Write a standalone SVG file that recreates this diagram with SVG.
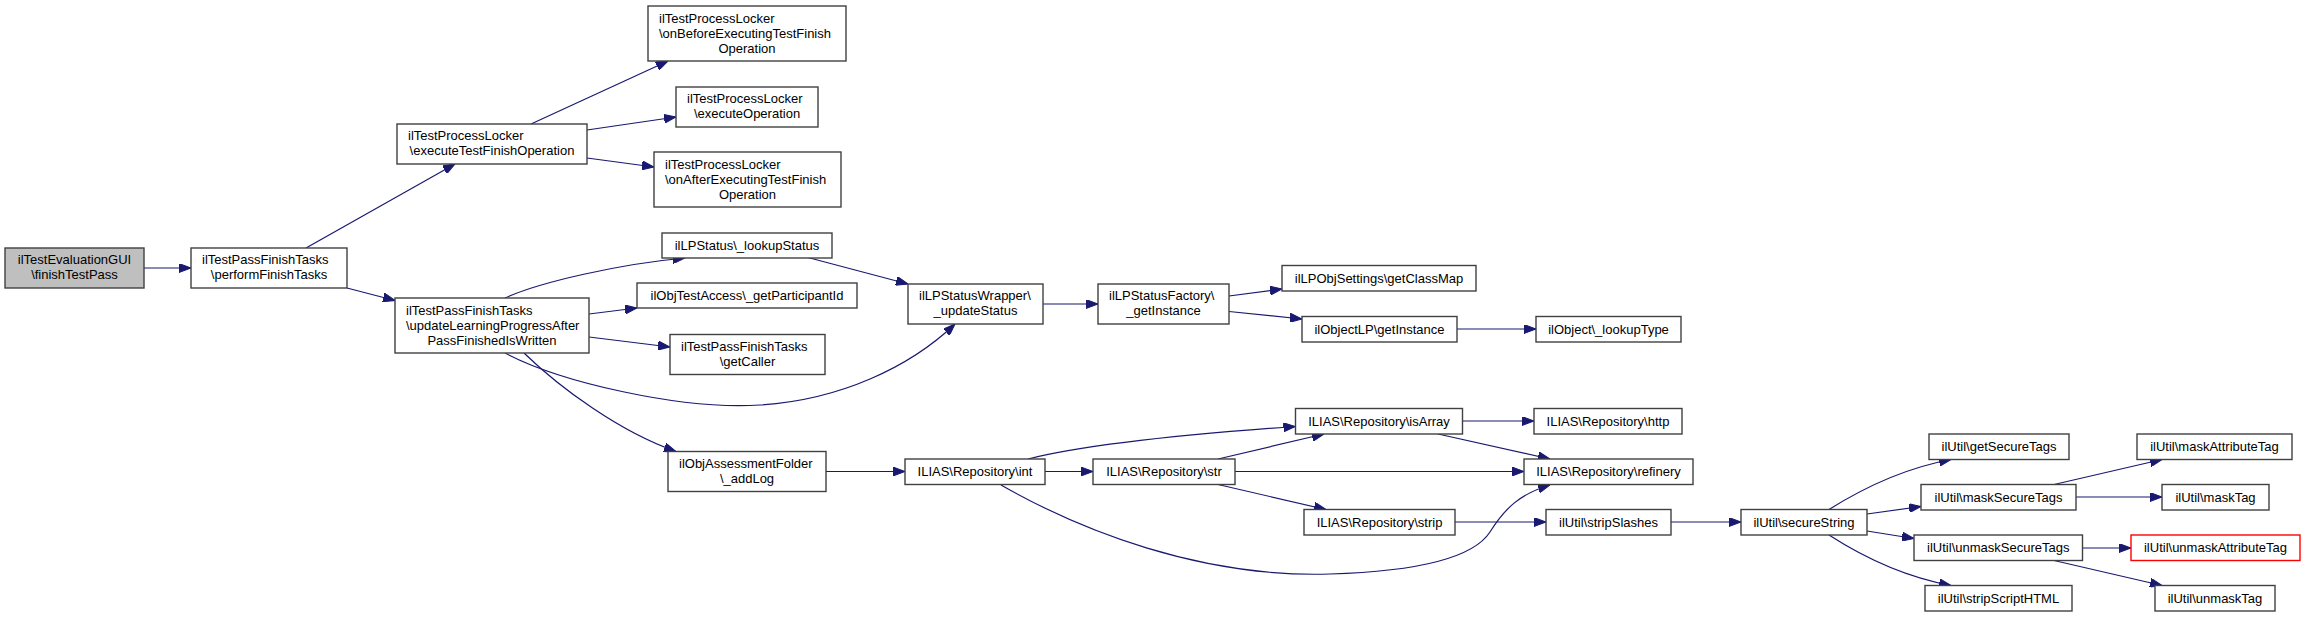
<svg xmlns="http://www.w3.org/2000/svg" width="2305" height="617" viewBox="0 0 2305 617">
<style>
.node rect{fill:#ffffff;stroke:#404040;stroke-width:1.4}
.node.root rect{fill:#bfbfbf}
.node.red rect{stroke:#ff0000}
.node text{font-family:"Liberation Sans",Arial,Helvetica,sans-serif;font-size:13px;fill:#000000}
.c{text-anchor:middle}
.l{text-anchor:start}
.edge{fill:none;stroke:#191970;stroke-width:1.2;marker-end:url(#arr)}
</style>
<defs>
<marker id="arr" viewBox="0 0 12 9" refX="12" refY="4.5" markerWidth="12" markerHeight="9" markerUnits="userSpaceOnUse" orient="auto">
<path d="M0,0 L12,4.5 L0,9 z" fill="#191970" stroke="#191970" stroke-width="1"/>
</marker>
</defs>
<rect width="2305" height="617" fill="#ffffff"/>
<g id="edges">
<path class="edge" d="M144,268 L191,268"/>
<path class="edge" d="M306,248 L455,164"/>
<path class="edge" d="M347,288 L395,300.5"/>
<path class="edge" d="M531,124 L668,61"/>
<path class="edge" d="M587,130 L676,117"/>
<path class="edge" d="M587,158 L654,167"/>
<path class="edge" d="M505,298 C540,282 620,264 685,258"/>
<path class="edge" d="M589,314 L637,308"/>
<path class="edge" d="M589,337 L670,347"/>
<path class="edge" d="M505,353 C560,382 680,410 760,405 C840,400 910,367 955,324"/>
<path class="edge" d="M524,353 C560,388 620,432 676,451.5"/>
<path class="edge" d="M806,257 L908,284"/>
<path class="edge" d="M1043,304 L1098,304"/>
<path class="edge" d="M1229,296 L1282,289"/>
<path class="edge" d="M1229,311.5 L1302,319"/>
<path class="edge" d="M1457,329 L1536,329"/>
<path class="edge" d="M826,471.5 L905,471.5"/>
<path class="edge" d="M1045,471.5 L1093,471.5"/>
<path class="edge" d="M1028,459 C1080,446 1160,436 1295.5,426.5"/>
<path class="edge" d="M1001,485 C1080,530 1200,578 1330,574 C1430,571 1475,555 1490,532 C1505,508 1520,494 1550,485"/>
<path class="edge" d="M1218,459 L1324,434"/>
<path class="edge" d="M1235,471.5 L1524,471.5"/>
<path class="edge" d="M1218,484.5 L1326,509.5"/>
<path class="edge" d="M1463,421 L1534,421"/>
<path class="edge" d="M1438,434 L1550,459"/>
<path class="edge" d="M1455,522 L1546,522"/>
<path class="edge" d="M1671,522 L1741,522"/>
<path class="edge" d="M1829,509.5 C1860,490 1900,469 1951,459.5"/>
<path class="edge" d="M1867,514 L1921,506.5"/>
<path class="edge" d="M1867,531 L1914,538.5"/>
<path class="edge" d="M1829,535 C1860,555 1900,576 1951,585.5"/>
<path class="edge" d="M2054,484.5 L2162,459.5"/>
<path class="edge" d="M2076,497 L2162,497"/>
<path class="edge" d="M2082.5,548 L2131,548"/>
<path class="edge" d="M2054,560.5 L2162,585.5"/>
</g>
<g id="n1" class="node root"><rect x="5" y="248" width="139" height="40"/><text class="c" x="74.5" y="264">ilTestEvaluationGUI</text><text class="c" x="74.5" y="279">\finishTestPass</text></g>
<g id="n2" class="node"><rect x="191" y="248" width="156" height="40"/><text class="l" x="202" y="264">ilTestPassFinishTasks</text><text class="c" x="269" y="279">\performFinishTasks</text></g>
<g id="n3" class="node"><rect x="397" y="124" width="190" height="40"/><text class="l" x="408" y="140">ilTestProcessLocker</text><text class="c" x="492" y="155">\executeTestFinishOperation</text></g>
<g id="n4" class="node"><rect x="395" y="298" width="194" height="55"/><text class="l" x="406" y="314.5">ilTestPassFinishTasks</text><text class="l" x="406" y="329.5">\updateLearningProgressAfter</text><text class="c" x="492" y="344.5">PassFinishedIsWritten</text></g>
<g id="n5" class="node"><rect x="648" y="6" width="198" height="55"/><text class="l" x="659" y="22.5">ilTestProcessLocker</text><text class="l" x="659" y="37.5">\onBeforeExecutingTestFinish</text><text class="c" x="747" y="52.5">Operation</text></g>
<g id="n6" class="node"><rect x="676" y="87" width="142" height="40"/><text class="l" x="687" y="103">ilTestProcessLocker</text><text class="c" x="747" y="118">\executeOperation</text></g>
<g id="n7" class="node"><rect x="654" y="152" width="187" height="55"/><text class="l" x="665" y="168.5">ilTestProcessLocker</text><text class="l" x="665" y="183.5">\onAfterExecutingTestFinish</text><text class="c" x="747.5" y="198.5">Operation</text></g>
<g id="n8" class="node"><rect x="662" y="233" width="170" height="25"/><text class="c" x="747" y="250">ilLPStatus\_lookupStatus</text></g>
<g id="n9" class="node"><rect x="637" y="283" width="220" height="25"/><text class="c" x="747" y="300">ilObjTestAccess\_getParticipantId</text></g>
<g id="n10" class="node"><rect x="670" y="334.5" width="155" height="40"/><text class="l" x="681" y="350.5">ilTestPassFinishTasks</text><text class="c" x="747.5" y="365.5">\getCaller</text></g>
<g id="n11" class="node"><rect x="908" y="284" width="135" height="40"/><text class="l" x="919" y="300">ilLPStatusWrapper\</text><text class="c" x="975.5" y="315">_updateStatus</text></g>
<g id="n12" class="node"><rect x="1098" y="284" width="131" height="40"/><text class="l" x="1109" y="300">ilLPStatusFactory\</text><text class="c" x="1163.5" y="315">_getInstance</text></g>
<g id="n13" class="node"><rect x="1282" y="265.5" width="194" height="25.5"/><text class="c" x="1379" y="282.5">ilLPObjSettings\getClassMap</text></g>
<g id="n14" class="node"><rect x="1302" y="316.5" width="155" height="25.5"/><text class="c" x="1379.5" y="333.5">ilObjectLP\getInstance</text></g>
<g id="n15" class="node"><rect x="1536" y="316.5" width="145" height="25.5"/><text class="c" x="1608.5" y="333.5">ilObject\_lookupType</text></g>
<g id="n16" class="node"><rect x="668" y="451.5" width="158" height="40"/><text class="l" x="679" y="467.5">ilObjAssessmentFolder</text><text class="c" x="747" y="482.5">\_addLog</text></g>
<g id="n17" class="node"><rect x="905" y="459" width="140" height="25.5"/><text class="c" x="975" y="476">ILIAS\Repository\int</text></g>
<g id="n18" class="node"><rect x="1093" y="459" width="142" height="25.5"/><text class="c" x="1164" y="476">ILIAS\Repository\str</text></g>
<g id="n19" class="node"><rect x="1295.5" y="408.5" width="167" height="25.5"/><text class="c" x="1379" y="425.5">ILIAS\Repository\isArray</text></g>
<g id="n20" class="node"><rect x="1534" y="408.5" width="148" height="25.5"/><text class="c" x="1608" y="425.5">ILIAS\Repository\http</text></g>
<g id="n21" class="node"><rect x="1524" y="459" width="169" height="25.5"/><text class="c" x="1608.5" y="476">ILIAS\Repository\refinery</text></g>
<g id="n22" class="node"><rect x="1304" y="509.5" width="151" height="25.5"/><text class="c" x="1379.5" y="526.5">ILIAS\Repository\strip</text></g>
<g id="n23" class="node"><rect x="1546" y="509.5" width="125" height="25.5"/><text class="c" x="1608.5" y="526.5">ilUtil\stripSlashes</text></g>
<g id="n24" class="node"><rect x="1741" y="509.5" width="126" height="25.5"/><text class="c" x="1804" y="526.5">ilUtil\secureString</text></g>
<g id="n25" class="node"><rect x="1929" y="434" width="140" height="25.5"/><text class="c" x="1999" y="451">ilUtil\getSecureTags</text></g>
<g id="n26" class="node"><rect x="1921" y="484.5" width="155" height="25.5"/><text class="c" x="1998.5" y="501.5">ilUtil\maskSecureTags</text></g>
<g id="n27" class="node"><rect x="1914" y="535" width="168.5" height="25.5"/><text class="c" x="1998.25" y="552">ilUtil\unmaskSecureTags</text></g>
<g id="n28" class="node"><rect x="1925" y="585.5" width="147" height="25.5"/><text class="c" x="1998.5" y="602.5">ilUtil\stripScriptHTML</text></g>
<g id="n29" class="node"><rect x="2137" y="434" width="155" height="25.5"/><text class="c" x="2214.5" y="451">ilUtil\maskAttributeTag</text></g>
<g id="n30" class="node"><rect x="2162" y="484.5" width="107" height="25.5"/><text class="c" x="2215.5" y="501.5">ilUtil\maskTag</text></g>
<g id="n31" class="node red"><rect x="2131" y="535" width="169" height="25.5"/><text class="c" x="2215.5" y="552">ilUtil\unmaskAttributeTag</text></g>
<g id="n32" class="node"><rect x="2155" y="585.5" width="120" height="25.5"/><text class="c" x="2215" y="602.5">ilUtil\unmaskTag</text></g>
</svg>
